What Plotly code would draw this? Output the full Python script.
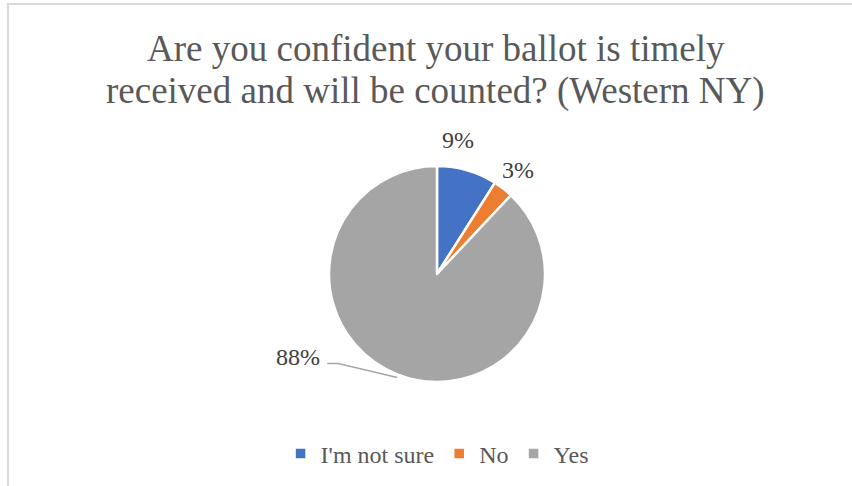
import math
import plotly.graph_objects as go

categories = ["I'm not sure", "No", "Yes"]
values = [9, 3, 88]
colors = ["#4472C4", "#ED7D31", "#A5A5A5"]
title_lines = ["Are you confident your ballot is timely", "received and will be counted? (Western NY)"]

W, H = 852, 486
CX, CY, R = 437, 274, 108  # pie centre / radius in pixels
SERIF = "Liberation Serif, Times New Roman, serif"
LABEL_POS = [(458, 140), (518, 170)]  # label centres for the two small slices

fig = go.Figure()
fig.add_trace(go.Pie(
    labels=categories,
    values=values,
    sort=False,
    direction="clockwise",
    rotation=0,
    marker=dict(colors=colors, line=dict(color="white", width=2.5)),
    textinfo="none",
    domain=dict(x=[(CX - R) / W, (CX + R) / W], y=[1 - (CY + R) / H, 1 - (CY - R) / H]),
    hoverinfo="label+percent",
))

total = sum(values)
annotations = []
shapes = []
cum = 0
label_font = dict(family=SERIF, size=24, color="#404040")
for i, v in enumerate(values):
    mid = (cum + v / 2) / total * 2 * math.pi
    cum += v
    txt = f"{round(100 * v / total)}%"
    if i < len(LABEL_POS):
        px, py = LABEL_POS[i]
        annotations.append(dict(x=px / W, y=1 - py / H, xref="paper", yref="paper",
                                text=txt, showarrow=False, font=label_font,
                                xanchor="center", yanchor="middle"))
    else:
        # leader line from slice edge (mid angle) to an outside label
        ex = CX + R * math.sin(mid)
        ey = CY - R * math.cos(mid) + 3
        kx, ky = ex - 59, ey - 14
        lx, ly = kx - 11, ky
        shapes.append(dict(type="path", xref="paper", yref="paper",
                           path=f"M {ex/W},{1-ey/H} L {kx/W},{1-ky/H} L {lx/W},{1-ly/H}",
                           line=dict(color="#A6A6A6", width=1.5)))
        annotations.append(dict(x=(lx - 5) / W, y=1 - (ly - 6) / H, xref="paper", yref="paper",
                                text=txt, showarrow=False, xanchor="right", yanchor="middle",
                                font=label_font))

# title lines
for j, line in enumerate(title_lines):
    annotations.append(dict(x=436 / W, y=1 - (48 + 43 * j) / H, xref="paper", yref="paper",
                            text=line, showarrow=False, xanchor="center", yanchor="middle",
                            font=dict(family=SERIF, size=37, color="#595959")))

shapes.append(dict(type="rect", xref="paper", yref="paper",
                   x0=8 / W, x1=1.2, y0=-0.2, y1=1 - 4 / H,
                   line=dict(color="#D9D9D9", width=2)))

fig.update_layout(
    width=W, height=H,
    margin=dict(l=0, r=0, t=0, b=0),
    paper_bgcolor="white",
    plot_bgcolor="white",
    legend=dict(
        orientation="h",
        x=0.513, xanchor="center",
        y=0.066, yanchor="middle",
        font=dict(family=SERIF, size=24, color="#595959"),
        itemwidth=30,
        traceorder="normal",
    ),
    annotations=annotations,
    shapes=shapes,
)

fig.write_html("out.html", config={"displayModeBar": False})
with open("out.html", encoding="utf-8") as f:
    html = f.read()
html = html.replace("<body>", '<body style="margin:0;padding:0;overflow:hidden">', 1)
with open("out.html", "w", encoding="utf-8") as f:
    f.write(html)
